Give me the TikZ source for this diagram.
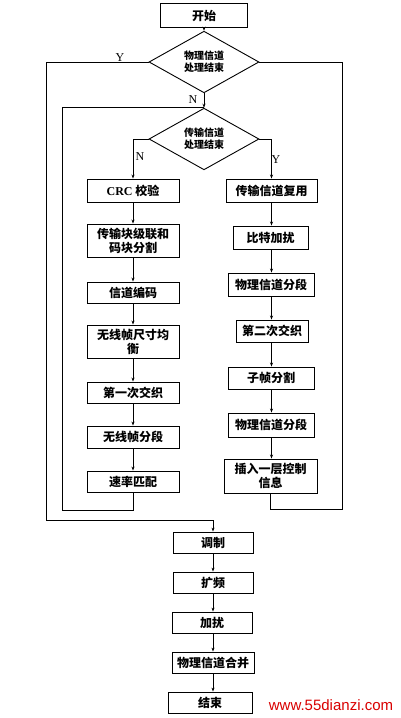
\documentclass[tikz,border=0pt]{standalone}
\usepackage{fontspec}
\setmainfont{Liberation Serif}
\setsansfont{Liberation Sans}
\newfontfamily\cjk{Noto Sans CJK SC}
\usetikzlibrary{shapes.geometric,arrows.meta}
\begin{document}
\begin{tikzpicture}[x=1pt,y=-1pt,
  box/.style={draw,line width=0.9pt,inner sep=1pt,align=center,font=\cjk\bfseries\fontsize{12}{14}\selectfont},
  dia/.style={draw,line width=0.9pt,diamond,inner sep=0pt,minimum width=110pt,minimum height=36pt,align=center,font=\cjk\bfseries\fontsize{10}{12}\selectfont},
  arr/.style={line width=0.6pt,-{Stealth[length=4pt,width=3pt]}},
  ln/.style={line width=0.6pt},
  lab/.style={font=\rmfamily\fontsize{12}{12}\selectfont}]
\useasboundingbox (0,0) rectangle (400,718);
\fill[white] (0,0) rectangle (400,718);
% top
\node[box,minimum width=87pt,minimum height=24pt] (start) at (204,15.5) {开始};
\node[dia] (d1) at (204,62) {物理信道\\处理结束};
\node[dia] (d2) at (204,139) {传输信道\\处理结束};
% left column
\node[box,minimum width=92pt,minimum height=23pt] (crc) at (133,190.5) {{\rmfamily\bfseries CRC} 校验};
\node[box,minimum width=92pt,minimum height=33pt] (tb) at (133,240.5) {传输块级联和\\码块分割};
\node[box,minimum width=92pt,minimum height=21pt] (enc) at (133,292.5) {信道编码};
\node[box,minimum width=92pt,minimum height=33pt] (eq) at (133,341.5) {无线帧尺寸均\\衡};
\node[box,minimum width=92pt,minimum height=21pt] (il1) at (133,392.5) {第一次交织};
\node[box,minimum width=92pt,minimum height=22pt] (seg) at (133,437) {无线帧分段};
\node[box,minimum width=92pt,minimum height=21pt] (rate) at (133,481.5) {速率匹配};
% right column
\node[box,minimum width=91pt,minimum height=23pt] (mux) at (271.5,190.5) {传输信道复用};
\node[box,minimum width=75pt,minimum height=23pt] (scr) at (270.5,237.5) {比特加扰};
\node[box,minimum width=86pt,minimum height=23pt] (ps1) at (271,284.5) {物理信道分段};
\node[box,minimum width=72pt,minimum height=22pt] (il2) at (272,331) {第二次交织};
\node[box,minimum width=86pt,minimum height=22pt] (sub) at (271,378) {子帧分割};
\node[box,minimum width=86pt,minimum height=24pt] (ps2) at (271,425) {物理信道分段};
\node[box,minimum width=93pt,minimum height=34pt] (ins) at (270.5,476) {插入一层控制\\信息};
% bottom column
\node[box,minimum width=80pt,minimum height=21pt] (mod) at (213,542.5) {调制};
\node[box,minimum width=80pt,minimum height=21pt] (spr) at (213,582.5) {扩频};
\node[box,minimum width=80pt,minimum height=21pt] (scr2) at (212,622.5) {加扰};
\node[box,minimum width=82pt,minimum height=21pt] (comb) at (213,662.5) {物理信道合并};
\node[box,minimum width=84pt,minimum height=21pt] (end) at (210,702.5) {结束};
% coordinates
\coordinate (yL) at (46,520);
\coordinate (j1) at (204,107);
\coordinate (lb) at (62,510);
\coordinate (rb) at (342,509);
% connectors
\draw[arr] (start) -- (d1);
\draw[ln] (d1.west) -| (yL);
\draw[arr] (yL) -| (mod.north);
\draw[arr] (d1.south) -- (d2.north);
\draw[ln] (rate.south) |- (lb) |- (j1);
\draw[ln] (ins.south) |- (rb) |- (d1.east);
\draw[arr] (d2.west) -| (crc.north);
\draw[arr] (d2.east) -| (mux.north);
\draw[arr] (crc) -- (tb);
\draw[arr] (tb) -- (enc);
\draw[arr] (enc) -- (eq);
\draw[arr] (eq) -- (il1);
\draw[arr] (il1) -- (seg);
\draw[arr] (seg) -- (rate);
\draw[arr] (mux) -- (mux|-scr.north);
\draw[arr] (mux|-scr.south) -- (mux|-ps1.north);
\draw[arr] (mux|-ps1.south) -- (mux|-il2.north);
\draw[arr] (mux|-il2.south) -- (mux|-sub.north);
\draw[arr] (mux|-sub.south) -- (mux|-ps2.north);
\draw[arr] (mux|-ps2.south) -- (mux|-ins.north);
\draw[arr] (mod) -- (mod|-spr.north);
\draw[arr] (mod|-spr.south) -- (mod|-scr2.north);
\draw[arr] (mod|-scr2.south) -- (mod|-comb.north);
\draw[arr] (mod|-comb.south) -- (mod|-end.north);
% labels
\node[lab] (ly) at (120,58) {Y};
\node[lab] (ln1) at (193,100) {N};
\node[lab] (ln2) at (140,157) {N};
\node[lab] (ly2) at (276,160) {Y};
\node[font=\sffamily\fontsize{15}{15}\selectfont,text=red!85!black,inner sep=0pt] (wm) at (331,705) {www.55dianzi.com};
\end{tikzpicture}
\end{document}
